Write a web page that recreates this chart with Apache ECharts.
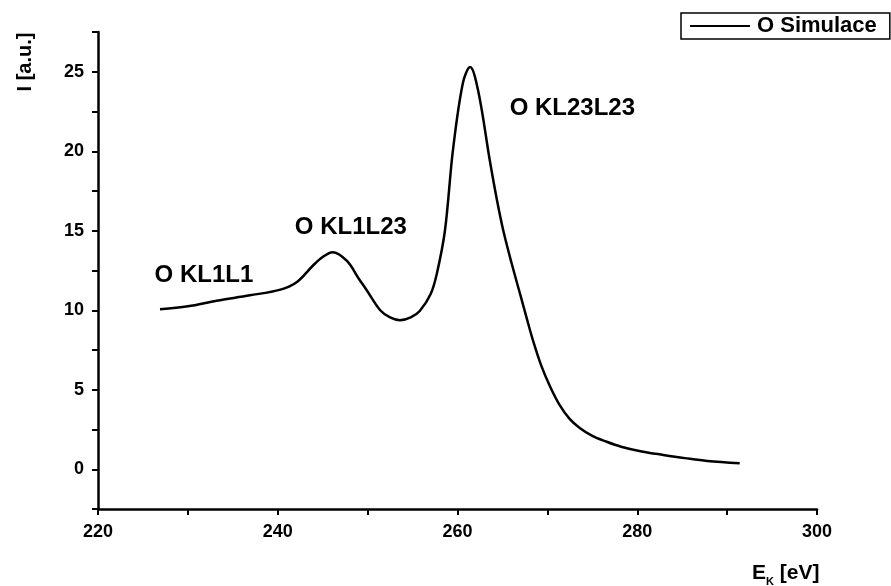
<!DOCTYPE html>
<html>
<head>
<meta charset="utf-8">
<script src="https://cdn.jsdelivr.net/npm/echarts@6/dist/echarts.min.js"></script>
<style>
  html, body { margin: 0; padding: 0; background: #fff; }
  #chart { width: 891px; height: 586px; }
</style>
</head>
<body>
<div id="chart"></div>
<script>
// kinetic energy [eV] and intensity [a.u.]
const energy = [226.9, 230, 233.2, 236.9, 240.3, 242.1, 243.9, 245, 246.1, 247.7, 249, 249.9,
  251.4, 252.5, 253.6, 254.8, 255.8, 257, 257.7, 258.6, 259.5, 260.6, 261.4, 262.3,
  263.6, 264.4, 265.1, 266, 267, 267.7, 268.4, 269.3, 270.3, 271.3, 272.5, 273.6,
  275, 276.5, 278.2, 280.5, 282.9, 285.3, 287.8, 291.4];
const intensity = [10.06, 10.25, 10.6, 10.94, 11.3, 11.76, 12.8, 13.35, 13.65, 13.1, 12.0, 11.26,
  10.0, 9.55, 9.37, 9.55, 9.95, 11.0, 12.3, 15.0, 20.1, 24.3, 25.3, 23.8,
  19.4, 16.9, 15.0, 13.0, 10.95, 9.5, 8.1, 6.55, 5.2, 4.1, 3.15, 2.6,
  2.1, 1.75, 1.42, 1.12, 0.9, 0.7, 0.52, 0.38];

// peak annotations: text, energy, intensity (left edge / middle of label)
const peakNames = ['O KL1L1', 'O KL1L23', 'O KL23L23'];
const peakE = [226.3, 241.9, 265.8];
const peakI = [12.2, 15.2, 22.7];

const seriesName = 'O Simulace';
const font = 'Liberation Sans, Arial, sans-serif';

const chart = echarts.init(document.getElementById('chart'));

const option = {
  animation: false,
  backgroundColor: '#fff',
  grid: { left: 98, right: 74, top: 32, bottom: 77 },
  legend: {
    data: [{ name: seriesName, icon: 'rect' }],
    left: 681,
    top: 13,
    padding: [2, 13, 2, 9],
    itemWidth: 60,
    itemHeight: 2,
    itemGap: 0,
    borderColor: '#000',
    borderWidth: 1.5,
    borderRadius: 0,
    textStyle: {
      color: '#000',
      fontSize: 22,
      fontWeight: 'bold',
      fontFamily: font,
      padding: [0, 0, 0, 2],
    },
  },
  xAxis: {
    type: 'value',
    min: 220,
    max: 300,
    interval: 10,
    splitLine: { show: false },
    axisLine: { onZero: false, lineStyle: { color: '#000', width: 2.5 } },
    axisTick: { length: 6, lineStyle: { color: '#000', width: 2 } },
    axisLabel: {
      margin: 14,
      color: '#000',
      fontSize: 18,
      fontWeight: 'bold',
      fontFamily: font,
      formatter: (v) => (v % 20 === 0 ? String(v) : ''),
    },
  },
  yAxis: {
    type: 'value',
    min: -2.5,
    max: 27.5,
    interval: 2.5,
    splitLine: { show: false },
    axisLine: { onZero: false, lineStyle: { color: '#000', width: 2.5 } },
    axisTick: { length: 6, lineStyle: { color: '#000', width: 2 } },
    axisLabel: {
      margin: 14,
      color: '#000',
      fontSize: 18,
      fontWeight: 'bold',
      fontFamily: font,
      formatter: (v) => (v % 5 === 0 ? String(v) : ''),
    },
  },
  series: [
    {
      name: seriesName,
      type: 'line',
      smooth: 0.35,
      showSymbol: false,
      symbol: 'none',
      lineStyle: { color: '#000', width: 2.5 },
      itemStyle: { color: '#000' },
      data: energy.map((e, i) => [e, intensity[i]]),
    },
    {
      name: 'peaks',
      type: 'scatter',
      symbolSize: 0,
      silent: true,
      itemStyle: { color: '#000', opacity: 1 },
      label: {
        show: true,
        position: 'right',
        distance: 0,
        color: '#000',
        opacity: 1,
        fontSize: 24,
        fontWeight: 'bold',
        fontFamily: font,
        formatter: (p) => peakNames[p.dataIndex],
      },
      data: peakE.map((e, i) => [e, peakI[i]]),
    },
  ],
  graphic: [
    {
      type: 'text',
      x: 25,
      y: 62,
      rotation: Math.PI / 2,
      style: {
        text: 'I [a.u.]',
        fill: '#000',
        font: 'bold 20px ' + font,
        align: 'center',
        verticalAlign: 'middle',
      },
    },
    {
      type: 'text',
      x: 752,
      y: 573,
      style: {
        text: '{e|E}{k|K}{e| [eV]}',
        align: 'left',
        verticalAlign: 'middle',
        rich: {
          e: { fill: '#000', font: 'bold 21px ' + font, verticalAlign: 'bottom' },
          k: { fill: '#000', font: 'bold 11px ' + font, verticalAlign: 'bottom', padding: [0, 0, -4, 0] },
        },
      },
    },
  ],
};

chart.setOption(option);
</script>
</body>
</html>
